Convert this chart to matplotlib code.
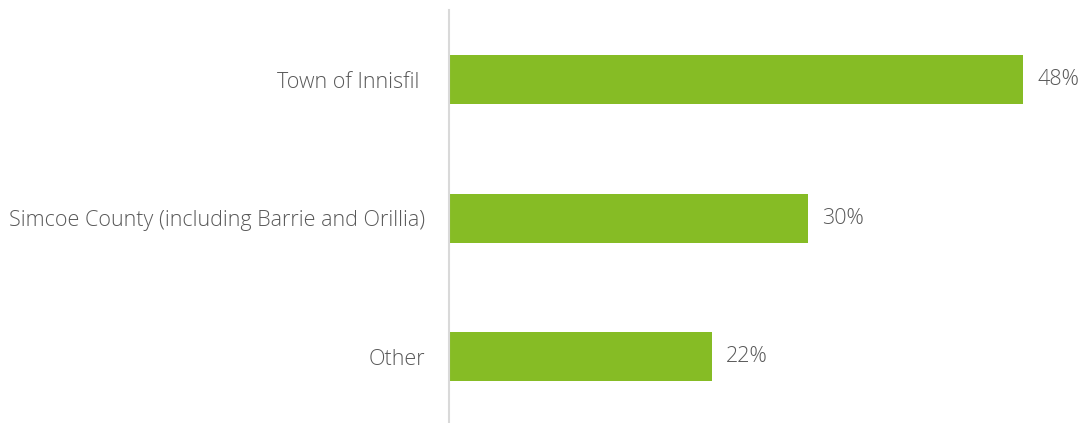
import matplotlib.pyplot as plt

plt.rcParams["font.family"] = ["Open Sans", "DejaVu Sans"]

categories = ["Town of Innisfil ", "Simcoe County (including Barrie and Orillia)", "Other"]
values = [48, 30, 22]
value_labels = ["48%", "30%", "22%"]

bar_color = "#86BC25"
text_color = "#595959"

fig = plt.figure(figsize=(10.82, 4.23), dpi=100)
ax = fig.add_axes([449 / 1082, 0, 1 - 449 / 1082, 413 / 423])

ypos = list(range(len(categories)))
ax.barh(ypos, values, height=0.354, color=bar_color, left=0)
ax.set_xlim(0, 52.9)
ax.set_ylim(2.48, -0.502)

for y, v, lab in zip(ypos, values, value_labels):
    ax.annotate(lab, xy=(v, y), xytext=(10, 0), textcoords="offset points",
                ha="left", va="center", fontsize=15.5, color=text_color,
                fontweight="light")

ax.set_yticks(ypos)
ax.set_yticklabels(categories, fontsize=15.5, color=text_color, fontweight="light")
ax.tick_params(axis="y", length=0, pad=17)
ax.set_xticks([])

for side in ["top", "right", "bottom"]:
    ax.spines[side].set_visible(False)
ax.spines["left"].set_color("#d9d9d9")
ax.spines["left"].set_linewidth(1.5)

fig.savefig("out.png", dpi=100)
